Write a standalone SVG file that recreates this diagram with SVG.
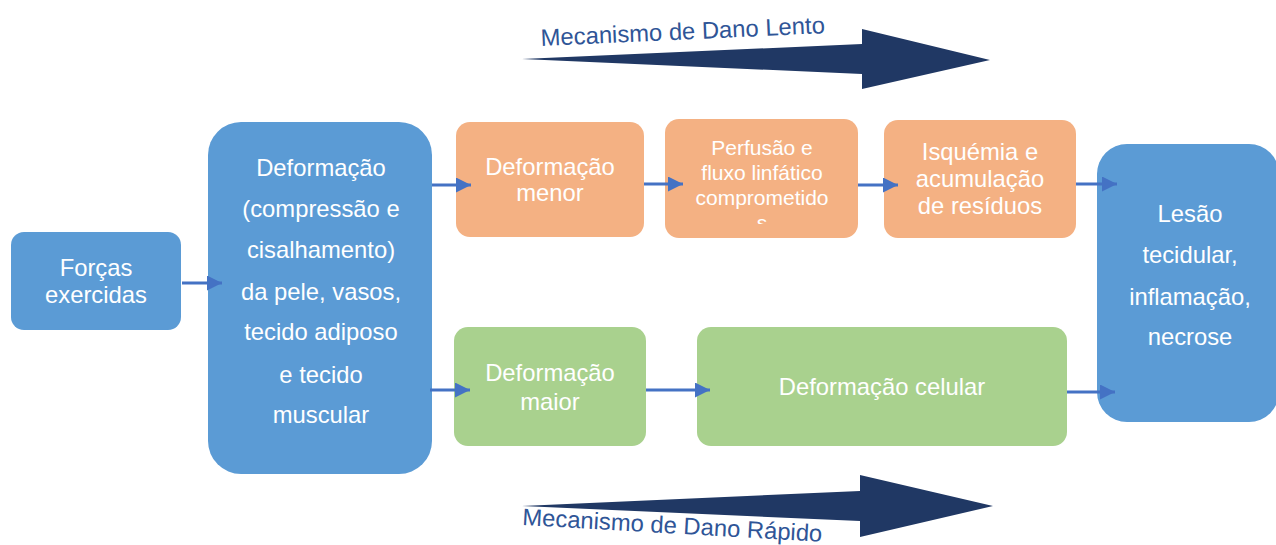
<svg xmlns="http://www.w3.org/2000/svg" width="1276" height="545" viewBox="0 0 1276 545">
<style>
.t{font-family:"Liberation Sans",Arial,sans-serif;font-size:23.8px;fill:#ffffff;text-anchor:middle}
.s{font-size:21px}
.blue{fill:#5b9bd5}
.orange{fill:#f4b183}
.green{fill:#a9d18e}
.lbl{font-family:"Liberation Sans",Arial,sans-serif;font-size:23.8px;fill:#2f5597}
.big{fill:#203864}
.c{stroke:#4472c4;stroke-width:3;fill:none}
</style>
<defs>
<marker id="ah" viewBox="0 0 10 10" refX="10" refY="5" markerWidth="5" markerHeight="5" markerUnits="strokeWidth" orient="auto">
<path d="M0,0 L10,5 L0,10 z" fill="#4472c4"/>
</marker>
<clipPath id="pclip"><rect x="665" y="119" width="193" height="105"/></clipPath>
</defs>
<rect width="1276" height="545" fill="#ffffff"/>

<g id="slow">
<polygon class="big" points="522,59 862,44 862,29 990,60 862,89 862,74"/>
<text class="lbl" transform="translate(541,46) rotate(-2.6)">Mecanismo de Dano Lento</text>
</g>
<g id="fast">
<polygon class="big" points="522,506 860,491 860,475 993,506 860,537 860,521"/>
<text class="lbl" transform="translate(522,525) rotate(3.2)">Mecanismo de Dano Rápido</text>
</g>

<g id="forcas">
<rect class="blue" x="11" y="232" width="170" height="98" rx="13"/>
<text class="t" x="96" y="276">Forças</text>
<text class="t" x="96" y="303">exercidas</text>
</g>

<g id="deformacao">
<rect class="blue" x="208" y="122" width="224" height="352" rx="33"/>
<text class="t" x="321" y="176">Deformação</text>
<text class="t" x="321" y="217">(compressão e</text>
<text class="t" x="321" y="258">cisalhamento)</text>
<text class="t" x="321" y="300">da pele, vasos,</text>
<text class="t" x="321" y="340">tecido adiposo</text>
<text class="t" x="321" y="383">e tecido</text>
<text class="t" x="321" y="423">muscular</text>
</g>

<g id="menor">
<rect class="orange" x="456" y="122" width="188" height="115" rx="14"/>
<text class="t" x="550" y="175">Deformação</text>
<text class="t" x="550" y="201">menor</text>
</g>

<g id="perfusao">
<rect class="orange" x="665" y="119" width="193" height="119" rx="14"/>
<g clip-path="url(#pclip)">
<text class="t s" x="762" y="155">Perfusão e</text>
<text class="t s" x="762" y="180">fluxo linfático</text>
<text class="t s" x="762" y="205">comprometido</text>
<text class="t s" x="762" y="230">s</text>
</g>
</g>

<g id="isquemia">
<rect class="orange" x="884" y="120" width="192" height="118" rx="14"/>
<text class="t" x="980" y="160">Isquémia e</text>
<text class="t" x="980" y="187">acumulação</text>
<text class="t" x="980" y="214">de resíduos</text>
</g>

<g id="maior">
<rect class="green" x="454" y="327" width="192" height="119" rx="14"/>
<text class="t" x="550" y="381">Deformação</text>
<text class="t" x="550" y="410">maior</text>
</g>

<g id="celular">
<rect class="green" x="697" y="327" width="370" height="119" rx="14"/>
<text class="t" x="882" y="395">Deformação celular</text>
</g>

<g id="lesao">
<rect class="blue" x="1097" y="144" width="182" height="278" rx="30"/>
<text class="t" x="1190" y="222">Lesão</text>
<text class="t" x="1190" y="263">tecidular,</text>
<text class="t" x="1190" y="305">inflamação,</text>
<text class="t" x="1190" y="345">necrose</text>
</g>

<g id="connectors">
<line class="c" x1="182" y1="283" x2="222" y2="283" marker-end="url(#ah)"/>
<line class="c" x1="432" y1="185" x2="471" y2="185" marker-end="url(#ah)"/>
<line class="c" x1="430" y1="390" x2="470" y2="390" marker-end="url(#ah)"/>
<line class="c" x1="644" y1="184" x2="683" y2="184" marker-end="url(#ah)"/>
<line class="c" x1="858" y1="185" x2="898" y2="185" marker-end="url(#ah)"/>
<line class="c" x1="1076" y1="184" x2="1117" y2="184" marker-end="url(#ah)"/>
<line class="c" x1="646" y1="390" x2="710" y2="390" marker-end="url(#ah)"/>
<line class="c" x1="1067" y1="392" x2="1115" y2="392" marker-end="url(#ah)"/>
</g>
</svg>
